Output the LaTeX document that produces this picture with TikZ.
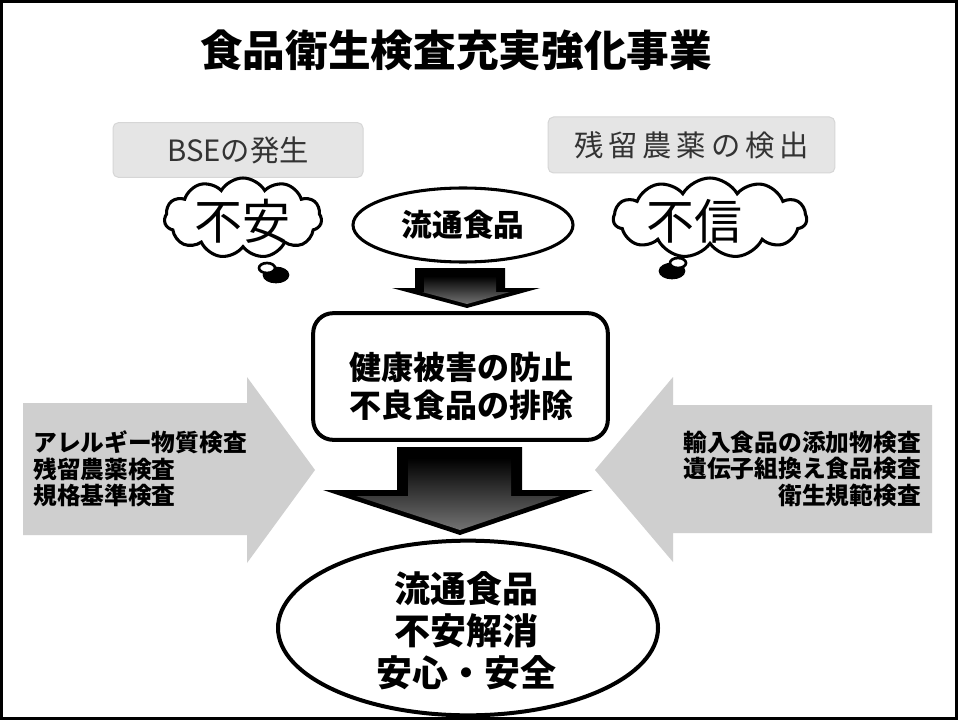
\documentclass[tikz,border=0pt]{standalone}
\usepackage{fontspec}
\newfontfamily\jp{Noto Sans CJK JP}
\usetikzlibrary{shapes.geometric,shapes.symbols}
\tikzset{
  tbold/.style={font=\jp\bfseries, text=black, inner sep=0pt},
  tlabel/.style={font=\jp\fontsize{22}{24}\selectfont, text=black!80, inner sep=0pt},
  graybox/.style={fill=black!10, draw=black!16, line width=0.75pt, rounded corners=4pt, inner sep=0pt},
  thought/.style={cloud, cloud puffs=11, cloud puff arc=120, draw=black, fill=white, line width=2.3pt, inner sep=0pt},
  outline/.style={draw=black, fill=white, line width=3pt},
  grayarrow/.style={fill=black!19, draw=none},
  blackarrow/.style={fill=black, draw=none}
}
\begin{document}
\begin{tikzpicture}[x=0.75pt,y=-0.75pt]
\useasboundingbox (0,0) rectangle (959,720);
\fill[white] (0,0) rectangle (959,720);
% frame
\draw[line width=1.8pt] (1.5,1.5) rectangle (956.5,718.5);

% title
\node[tbold, font=\jp\bfseries\fontsize{32}{36}\selectfont] (title) at (456,50) {食品衛生検査充実強化事業};

% gray label boxes
\node[graybox, minimum width=187.5pt, minimum height=41pt] (bsebox) at (238,150) {};
\node[tlabel] (bse) at (bsebox.center) {BSEの発生};
\node[graybox, minimum width=215pt, minimum height=42pt] (zanbox) at (691.5,145) {};
\node[tlabel] (zan) at (zanbox.center) {残\,留\,農\,薬\,の\,検\,出};

% clouds
\node[thought, aspect=2.1, minimum width=118pt, minimum height=60pt] (c1) at (243,218) {};
\node[font=\jp\fontsize{36}{40}\selectfont, inner sep=0pt] (t1) at (242,221) {不安};
\draw[line width=2pt, fill=black] (276,275) ellipse (12 and 7);
\draw[line width=2pt, fill=white] (267,268) ellipse (8 and 5);
\node[thought, aspect=2.4, minimum width=145pt, minimum height=60pt] (c2) at (710,218) {};
\node[font=\jp\fontsize{36}{40}\selectfont, inner sep=0pt] (t2) at (694,221) {不信};
\draw[line width=2pt, fill=black] (672,271) ellipse (12 and 7);
\draw[line width=2pt, fill=white] (678,263) ellipse (8 and 5);

% top ellipse
\node[ellipse, outline, line width=2.3pt, minimum width=165pt, minimum height=55.5pt, inner sep=0pt] (top) at (463,225) {};
\node[tbold, font=\jp\bfseries\fontsize{23}{26}\selectfont] (toptxt) at (top.center) {流通食品};

% down arrow 1
\fill[blackarrow] (415,268) -- (505,268) -- (505,288) -- (540,288) -- (467,308) -- (392,288) -- (415,288) -- cycle;
\shade[top color=black, bottom color=black!55] (424,276) -- (496,276) -- (496,292) -- (510,292) -- (467,304) -- (422,292) -- (424,292) -- cycle;

% middle rounded box
\node[draw=black, fill=white, line width=3pt, rounded corners=15pt, minimum width=221pt, minimum height=95pt] (mid) at (460.5,376.5) {};
\node[tbold, align=center, font=\jp\bfseries\fontsize{24}{28.5}\selectfont] (midtxt) at (461,386) {健康被害の防止\\不良食品の排除};

% side gray arrows
\fill[grayarrow] (23,403) -- (247,403) -- (247,377) -- (315,470) -- (247,563) -- (247,535) -- (23,535) -- cycle;
\node[tbold, align=left, anchor=west, font=\jp\bfseries\fontsize{17.8}{20}\selectfont] (ltxt) at (33,469) {アレルギー物質検査\\残留農薬検査\\規格基準検査};
\fill[grayarrow] (932,405) -- (673,405) -- (673,377) -- (595,470) -- (673,562) -- (673,533) -- (932,533) -- cycle;
\node[tbold, align=right, anchor=east, font=\jp\bfseries\fontsize{17.8}{20}\selectfont] (rtxt) at (921,469) {輸入食品の添加物検査\\遺伝子組換え食品検査\\衛生規範検査};

% down arrow 2
\fill[blackarrow] (397,447) -- (522,447) -- (522,490) -- (593,490) -- (460,535) -- (323,490) -- (397,490) -- cycle;
\shade[top color=black, bottom color=black!55] (408,458) -- (511,458) -- (511,496) -- (560,496) -- (460,530) -- (356,496) -- (408,496) -- cycle;

% bottom ellipse
\node[ellipse, outline, minimum width=285pt, minimum height=131pt, inner sep=0pt] (bot) at (468,628) {};
\node[tbold, align=center, font=\jp\bfseries\fontsize{27}{31.5}\selectfont] (bottxt) at (466,631) {流通食品\\不安解消\\安心・安全};
\end{tikzpicture}
\end{document}
